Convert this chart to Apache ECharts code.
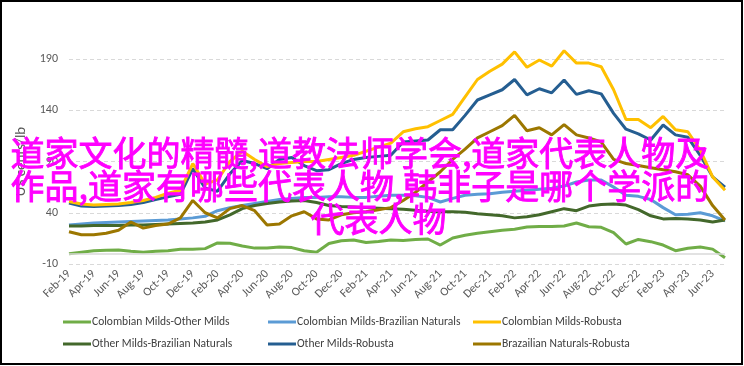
<!DOCTYPE html>
<html>
<head>
<meta charset="utf-8">
<script src="https://cdn.jsdelivr.net/npm/echarts@6/dist/echarts.min.js"></script>
<style>
html,body{margin:0;padding:0;background:#fff;}
#c{width:744px;height:366px;}
</style>
</head>
<body>
<div id="c"></div>
<script>
var months = ['Feb-19','Mar-19','Apr-19','May-19','Jun-19','Jul-19','Aug-19','Sep-19','Oct-19','Nov-19','Dec-19','Jan-20',
'Feb-20','Mar-20','Apr-20','May-20','Jun-20','Jul-20','Aug-20','Sep-20','Oct-20','Nov-20','Dec-20','Jan-21',
'Feb-21','Mar-21','Apr-21','May-21','Jun-21','Jul-21','Aug-21','Sep-21','Oct-21','Nov-21','Dec-21','Jan-22',
'Feb-22','Mar-22','Apr-22','May-22','Jun-22','Jul-22','Aug-22','Sep-22','Oct-22','Nov-22','Dec-22','Jan-23',
'Feb-23','Mar-23','Apr-23','May-23','Jun-23','Jul-23'];

var seriesNames = ['Colombian Milds-Other Milds','Colombian Milds-Brazilian Naturals','Colombian Milds-Robusta',
'Other Milds-Brazilian Naturals','Other Milds-Robusta','Brazailian Naturals-Robusta'];

var cmOm = [0,1.5,3,3.5,3.7,2.5,1.5,2.5,3,4.5,4.5,5,10.5,10.3,7.5,5.5,5.5,6.5,6,3,1.5,10,12.7,13.5,11,12,13.4,13,14,14.4,8.5,15.4,18,20,21.5,23,24,26,26.5,26.5,27,30,26.4,25.8,20.6,9.5,14,11.8,8.5,3,5.3,6.5,4.5,-4];
var cmBn = [28,29,30,30.5,31,31.5,32,32.5,33,34,35,36.5,42,45,47,49,51,53,54,55,55,55.5,55.5,55,55,56,57,57,56.5,55,50.5,54,57,58,58.5,60,61,62,63,64,66,70,72,72,65,57,56,53,45,38,38.5,40,37,32];
var cmR = [51,48.5,47.5,48,48.5,50,52,55,59,62,88,68,72,90,100,92,85,88,89,90,90,92,94,96,100,104,108,119,122,124,130,136,153,170,178,185,197,182,189,183,198,186,186,182.5,160,131,131,123,134,121,119,101,75,62];
var omBn = [27,27,27.5,27.5,27.5,28,28,28.5,29,29.5,30,31,33,38,44,47,49,50.5,51.5,52,50,47,46,45.5,45,44.5,44,43.5,42.5,41.5,41,41,40.5,39,38,37,35,36,38,41,44,42,46.5,48,48.5,47.5,43,37,34,34.5,34,33,31,33];
var omR = [49.5,46.5,46,46.5,47,48,50,53,55.5,58,83,64,61,78,91,88,83,92,94,86,81,82,88,92,94,95,96,109,110,111,121,121,135,150,155,160,170,155,161,157,169.5,155.5,159,156,137,121.5,117,111,125.6,116,113.6,96,75,65];
var bnR = [21.5,18.5,18.5,20,23,31,25,27.5,29,35,52,40,35,44,47,42,28,29,37,41,34,33,38,40,41,43,45,52,60,70,80,92,102,113,119,125,135,120,123,116,126,116,113,109,92,88,86,84,82,80,77,66,47,33];

var yTicks = [-10, 40, 90, 140, 190];
var yTitle = 'US cents/lb';
var overlayLines = ['道家文化的精髓,道教法师学会,道家代表人物及', '作品,道家有哪些代表人物,韩非子是哪个学派的', '代表人物'];

var colors = ['#70AD47','#5B9BD5','#FFC000','#43682B','#255E91','#9C7700'];
var datas = [cmOm, cmBn, cmR, omBn, omR, bnR];

var chart = echarts.init(document.getElementById('c'), null, {renderer:'canvas'});
var font = 'Carlito, Lato, "Open Sans", sans-serif';

var series = seriesNames.map(function(n,i){
  return {
    name:n, type:'line', data:datas[i], symbol:'none', clip:false,
    lineStyle:{width:3, color:colors[i]}, itemStyle:{color:colors[i]},
    z: [2,3,6,4,5,7][i]
  };
});
series[0].markLine = {silent:true, symbol:'none', label:{show:false},
  lineStyle:{color:'#d9d9d9', type:'solid', width:1.5}, data:[{yAxis:0}]};

var legendPos = [[63,316],[268,316],[473,316],[63,338],[268,338],[473,338]];
var legends = seriesNames.map(function(n,i){
  return {data:[n], left:legendPos[i][0], top:legendPos[i][1], icon:'rect', itemWidth:28, itemHeight:3,
    itemGap:0, padding:0, selectedMode:false,
    textStyle:{fontFamily:font, fontSize:11.5, color:'#404040', padding:[0,0,0,-4]}};
});

var overlayStyle = {fill:'#FF00FF', stroke:'#FF00FF', lineWidth:0.9, font:'34px "Noto Sans CJK SC"'};
var graphics = [
  {type:'rect', shape:{x:1, y:1, width:741, height:363}, style:{fill:null, stroke:'#000', lineWidth:2}, silent:true, z:100},
  {type:'text', left:10, top:136, z:100, style:Object.assign({text:overlayLines[0]}, overlayStyle)},
  {type:'text', left:10, top:169, z:100, style:Object.assign({text:overlayLines[1]}, overlayStyle)},
  {type:'text', left:310, top:202, z:100, style:Object.assign({text:overlayLines[2]}, overlayStyle)}
];

chart.setOption({
  animation:false,
  color:colors,
  grid:{left:69, right:19, top:59, bottom:102, containLabel:false},
  xAxis:{type:'category', data:months, boundaryGap:false,
    axisLine:{show:false}, axisTick:{show:false},
    axisLabel:{interval:1, rotate:45, fontFamily:font, fontSize:12, color:'#595959', margin:8},
    splitLine:{show:false}},
  yAxis:{type:'value', min:yTicks[0], max:yTicks[yTicks.length-1], interval:50,
    name:yTitle, nameLocation:'middle', nameRotate:90, nameGap:40,
    nameTextStyle:{fontFamily:font, fontSize:15, color:'#595959'},
    axisLine:{show:false}, axisTick:{show:false},
    axisLabel:{fontFamily:font, fontSize:12, color:'#595959', margin:11},
    splitLine:{lineStyle:{color:'#d9d9d9', type:[4,3], width:1}}},
  legend:legends,
  series:series,
  graphic:graphics
});
</script>
</body>
</html>
